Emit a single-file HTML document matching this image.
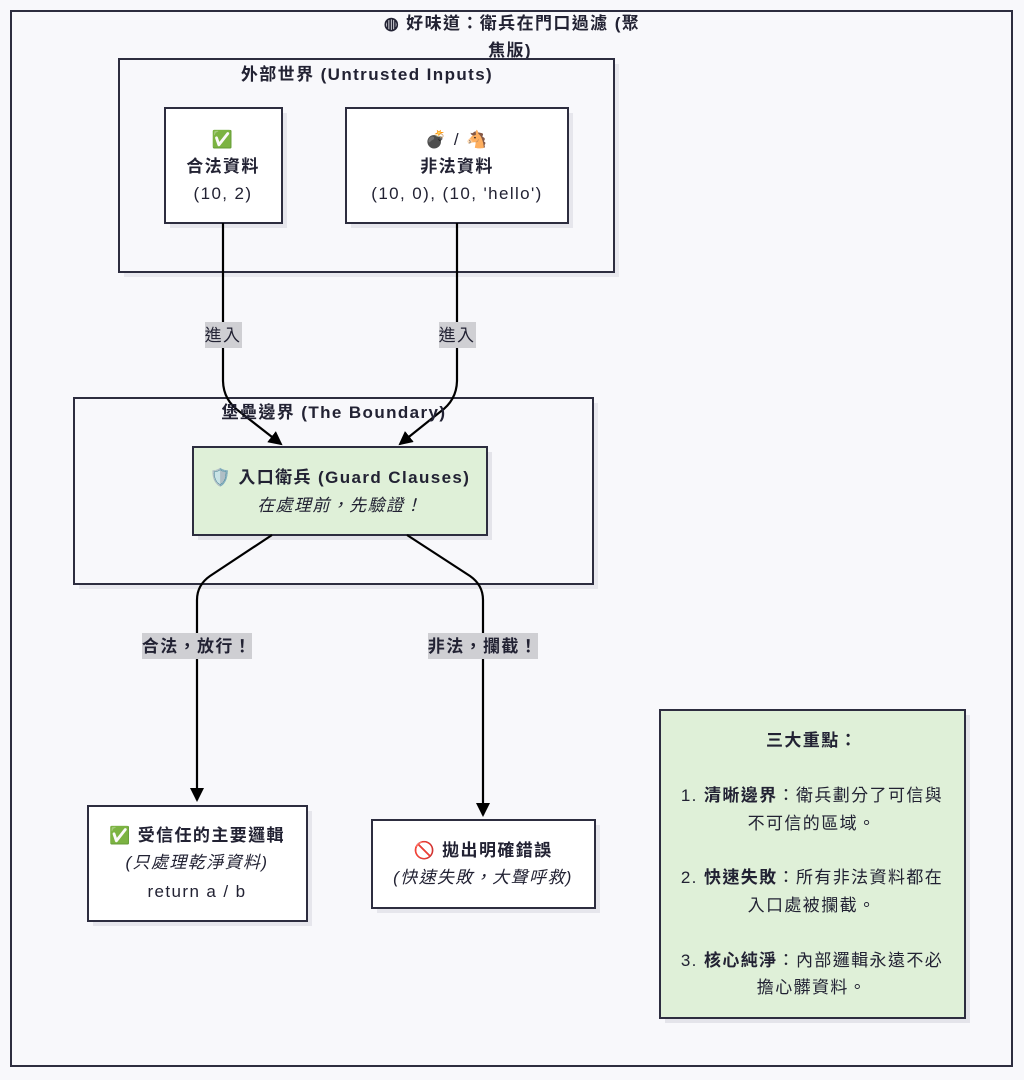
<!DOCTYPE html>
<html><head><meta charset="utf-8"><style>
html,body{margin:0;padding:0;background:#f8f8fb;}
svg{display:block;font-family:"Liberation Sans","Noto Sans CJK TC",sans-serif;}
.b{font-weight:bold;}
text{fill:#222233;letter-spacing:1.4px;}
</style></head><body>
<svg width="1024" height="1080" viewBox="0 0 1024 1080" xmlns="http://www.w3.org/2000/svg">
<defs>
<marker id="ah" markerWidth="14" markerHeight="14" refX="12" refY="7" orient="auto" markerUnits="userSpaceOnUse" viewBox="0 0 14 14">
<path d="M0,0 L14,7 L0,14 z" fill="#000"/></marker>
</defs>
<rect x="0" y="0" width="1024" height="1080" fill="#f8f8fb"/>
<rect x="11" y="11" width="1001" height="1055" fill="#f8f8fb" stroke="#2d2d3f" stroke-width="2"/>
<text x="512" y="29" text-anchor="middle" class="b" font-size="17">◍ 好味道：衛兵在門口過濾 (聚</text>
<text x="510" y="56" text-anchor="middle" class="b" font-size="17">焦版)</text>

<rect x="124" y="64" width="495" height="213" fill="#e8e8ee"/>
<rect x="119" y="59" width="495" height="213" fill="#f8f8fb" stroke="#2d2d3f" stroke-width="2"/>
<text x="367" y="80" text-anchor="middle" class="b" font-size="17">外部世界 (Untrusted Inputs)</text>

<rect x="170" y="113" width="117" height="115" fill="#e6e6ec"/>
<rect x="165" y="108" width="117" height="115" fill="#fff" stroke="#2d2d3f" stroke-width="2"/>
<text x="223" y="145" text-anchor="middle" font-size="17">✅</text>
<text x="223" y="172" text-anchor="middle" class="b" font-size="17">合法資料</text>
<text x="223" y="199" text-anchor="middle" font-size="17">(10, 2)</text>

<rect x="351" y="113" width="222" height="115" fill="#e6e6ec"/>
<rect x="346" y="108" width="222" height="115" fill="#fff" stroke="#2d2d3f" stroke-width="2"/>
<text x="457" y="145" text-anchor="middle" font-size="17">💣 / 🐴</text>
<text x="457" y="172" text-anchor="middle" class="b" font-size="17">非法資料</text>
<text x="457" y="199" text-anchor="middle" font-size="17">(10, 0), (10, 'hello')</text>

<rect x="79" y="403" width="519" height="186" fill="#e8e8ee"/>
<rect x="74" y="398" width="519" height="186" fill="#f8f8fb" stroke="#2d2d3f" stroke-width="2"/>

<path d="M223,223 V380 Q223,400 240,412 L281,444" fill="none" stroke="#000" stroke-width="2.2" marker-end="url(#ah)"/>
<path d="M457,223 V380 Q457,400 440,412 L400,444" fill="none" stroke="#000" stroke-width="2.2" marker-end="url(#ah)"/>
<rect x="205" y="322" width="37" height="26" fill="#cfcfd3"/>
<text x="223" y="341" text-anchor="middle" font-size="17" fill="#333">進入</text>
<rect x="439" y="322" width="37" height="26" fill="#cfcfd3"/>
<text x="457" y="341" text-anchor="middle" font-size="17" fill="#333">進入</text>

<text x="334" y="418" text-anchor="middle" class="b" font-size="17">堡壘邊界 (The Boundary)</text>

<rect x="198" y="452" width="294" height="88" fill="#e4e4ea"/>
<rect x="193" y="447" width="294" height="88" fill="#dff0d8" stroke="#2d2d3f" stroke-width="2"/>
<text x="340" y="483" text-anchor="middle" class="b" font-size="17">🛡️ 入口衛兵 (Guard Clauses)</text>
<text x="340" y="511" text-anchor="middle" font-style="italic" font-size="17">在處理前，先驗證！</text>

<path d="M272,535 L210,576 Q197,585 197,600 V800" fill="none" stroke="#000" stroke-width="2.2" marker-end="url(#ah)"/>
<path d="M407,535 L470,576 Q483,585 483,600 V815" fill="none" stroke="#000" stroke-width="2.2" marker-end="url(#ah)"/>
<rect x="142" y="633" width="110" height="26" fill="#cfcfd3"/>
<text x="197" y="652" text-anchor="middle" class="b" font-size="17" fill="#333">合法，放行！</text>
<rect x="428" y="633" width="110" height="26" fill="#cfcfd3"/>
<text x="483" y="652" text-anchor="middle" class="b" font-size="17" fill="#333">非法，攔截！</text>

<rect x="93" y="811" width="219" height="115" fill="#e6e6ec"/>
<rect x="88" y="806" width="219" height="115" fill="#fff" stroke="#2d2d3f" stroke-width="2"/>
<text x="197" y="841" text-anchor="middle" class="b" font-size="17">✅ 受信任的主要邏輯</text>
<text x="197" y="868" text-anchor="middle" font-style="italic" font-size="17">(只處理乾淨資料)</text>
<text x="197" y="897" text-anchor="middle" font-size="17">return a / b</text>

<rect x="377" y="825" width="223" height="88" fill="#e6e6ec"/>
<rect x="372" y="820" width="223" height="88" fill="#fff" stroke="#2d2d3f" stroke-width="2"/>
<text x="483" y="856" text-anchor="middle" class="b" font-size="17">🚫 拋出明確錯誤</text>
<text x="483" y="883" text-anchor="middle" font-style="italic" font-size="17">(快速失敗，大聲呼救)</text>

<rect x="665" y="715" width="305" height="308" fill="#e4e4ea"/>
<rect x="660" y="710" width="305" height="308" fill="#dff0d8" stroke="#2d2d3f" stroke-width="2"/>
<g font-size="17" text-anchor="middle">
<text x="812" y="746" class="b">三大重點：</text>
<text x="812" y="801"><tspan>1. </tspan><tspan class="b">清晰邊界</tspan><tspan>：衛兵劃分了可信與</tspan></text>
<text x="812" y="829">不可信的區域。</text>
<text x="812" y="883"><tspan>2. </tspan><tspan class="b">快速失敗</tspan><tspan>：所有非法資料都在</tspan></text>
<text x="812" y="911">入口處被攔截。</text>
<text x="812" y="966"><tspan>3. </tspan><tspan class="b">核心純淨</tspan><tspan>：內部邏輯永遠不必</tspan></text>
<text x="812" y="993">擔心髒資料。</text>
</g>
</svg>
</body></html>
